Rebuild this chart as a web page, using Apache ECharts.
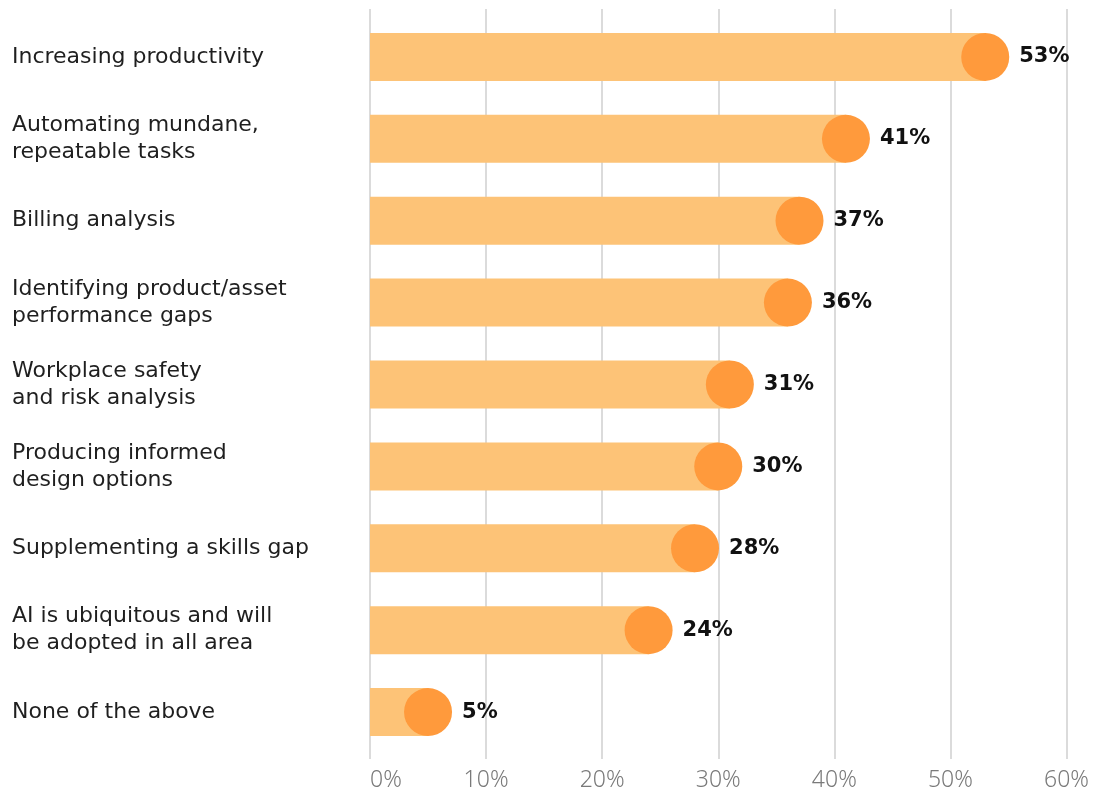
<!DOCTYPE html>
<html><head><meta charset="utf-8">
<script src="https://cdn.jsdelivr.net/npm/echarts@6/dist/echarts.min.js"></script>
<style>html,body{margin:0;padding:0;background:#fff}#c{width:1094px;height:792px}</style>
</head><body><div id="c"></div>
<script>
const categories = [
  "Increasing productivity",
  "Automating mundane,\nrepeatable tasks",
  "Billing analysis",
  "Identifying product/asset\nperformance gaps",
  "Workplace safety\nand risk analysis",
  "Producing informed\ndesign options",
  "Supplementing a skills gap",
  "AI is ubiquitous and will\nbe adopted in all area",
  "None of the above"
];
const values = [53, 41, 37, 36, 31, 30, 28, 24, 5];
const tickMin = 0, tickMax = 60, tickStep = 10;

const FONT = "Noto Sans";
const CAT_FONT = "DejaVu Sans";
const chart = echarts.init(document.getElementById('c'), null, {renderer: 'canvas'});
chart.setOption({
  animation: false,
  textStyle: {fontFamily: FONT},
  grid: [
    {left: 370, right: 27.5, top: 9, bottom: 32, containLabel: false},
    {left: 370, right: 27.5, top: 16, bottom: 39, containLabel: false}
  ],
  xAxis: [
    {gridIndex: 0, type: 'value', min: tickMin, max: tickMax, interval: tickStep,
     axisLine: {show: false}, axisTick: {show: false},
     splitLine: {show: true, lineStyle: {color: '#cfcfcf', width: 1.5}},
     axisLabel: {formatter: '{value}%', color: '#7a7a7a', fontSize: 23, fontWeight: 300, margin: 10,
                 fontFamily: FONT, alignMinLabel: 'left'}},
    {gridIndex: 1, type: 'value', min: tickMin, max: tickMax, interval: tickStep,
     axisLine: {show: false}, axisTick: {show: false}, splitLine: {show: false}, axisLabel: {show: false}}
  ],
  yAxis: [
    {gridIndex: 0, type: 'category', data: categories, show: false, inverse: true},
    {gridIndex: 1, type: 'category', data: categories, inverse: true,
     axisLine: {show: false}, axisTick: {show: false},
     axisLabel: {align: 'left', margin: 358, color: '#1f1f1f', fontSize: 22, lineHeight: 27, fontFamily: CAT_FONT}}
  ],
  series: [
    {type: 'bar', xAxisIndex: 1, yAxisIndex: 1, data: values, barWidth: 48,
     itemStyle: {color: '#FDC377'}, silent: true},
    {type: 'scatter', xAxisIndex: 1, yAxisIndex: 1, symbolSize: 48,
     data: values.map((v, i) => [v, i]),
     itemStyle: {color: '#FF9A3C', opacity: 1},
     label: {show: true, position: 'right', distance: 10, formatter: p => p.value[0] + '%',
             color: '#111', fontSize: 21, fontWeight: 'bold', fontFamily: CAT_FONT}}
  ]
});
</script></body></html>
